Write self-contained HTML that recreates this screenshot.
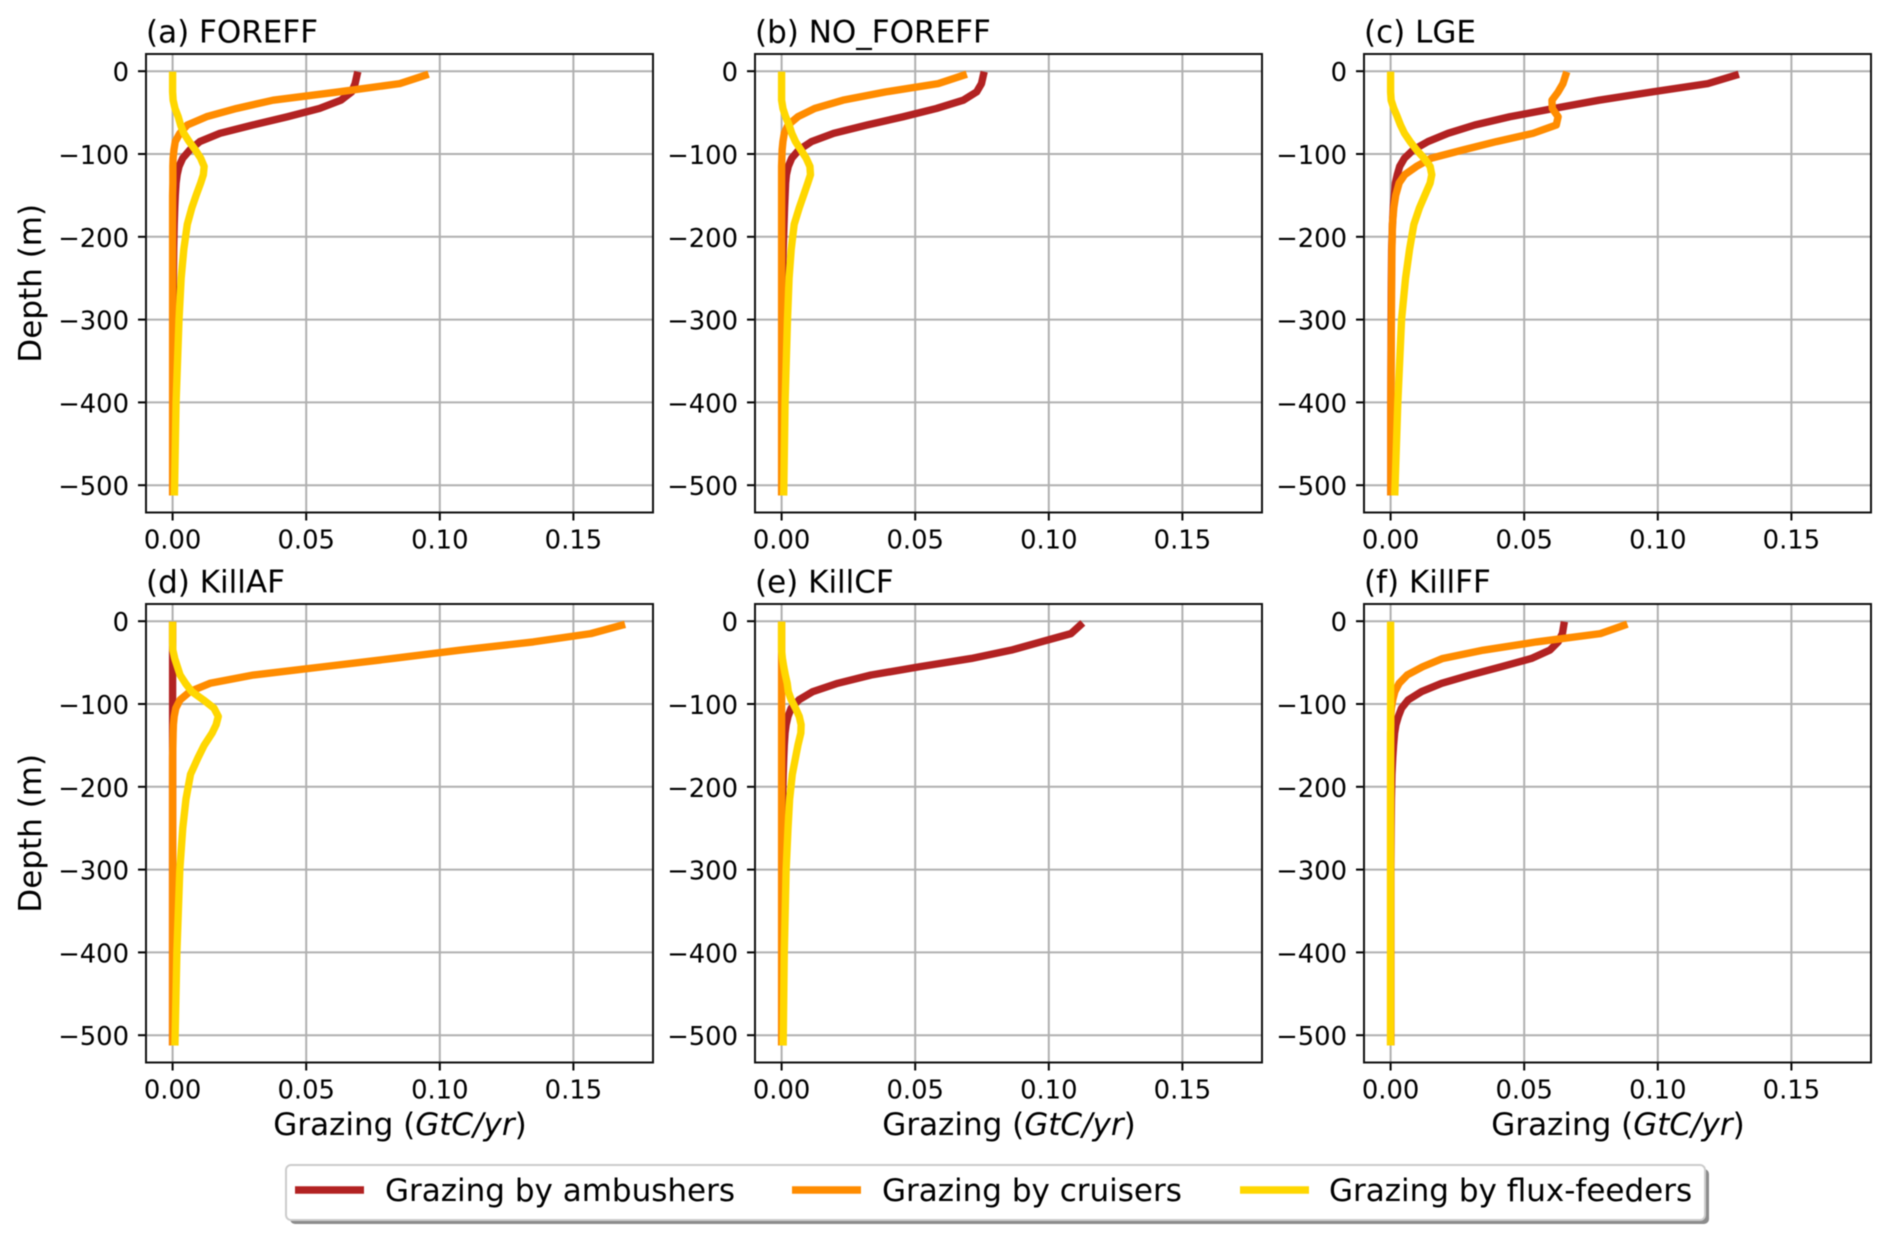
<!DOCTYPE html>
<html lang="en">
<head>
<meta charset="utf-8">
<title>Grazing depth profiles</title>
<style>
html,body{margin:0;padding:0;background:#fff;}
#chart{display:block;width:1892px;height:1244px;filter:blur(0.4px);}
text{font-family:"DejaVu Sans","Liberation Sans",sans-serif;fill:#000;}
</style>
</head>
<body>
<svg id="chart" xmlns="http://www.w3.org/2000/svg" width="1892" height="1244" viewBox="0 0 1892 1244">
  <rect x="0" y="0" width="1892" height="1244" fill="#fff"/>
  <g id="panels"></g>
  <g>
    <rect x="290" y="1169" width="1419" height="55" rx="5" fill="#8c8c8c"/>
    <rect x="286" y="1165" width="1419" height="55" rx="5" fill="#fff" stroke="#cccccc" stroke-width="2"/>
    <line x1="295" y1="1190" x2="364" y2="1190" stroke="#b22222" stroke-width="7.4"/>
    <text x="385" y="1201" font-size="31">Grazing by ambushers</text>
    <line x1="792" y1="1190" x2="861" y2="1190" stroke="#ff8c00" stroke-width="7.4"/>
    <text x="882" y="1201" font-size="31">Grazing by cruisers</text>
    <line x1="1240" y1="1190" x2="1309" y2="1190" stroke="#ffd700" stroke-width="7.4"/>
    <text x="1329" y="1201" font-size="31">Grazing by flux-feeders</text>
  </g>
</svg>
<script>
const depths = [5,15,25,35,45,55,65,75,85,95,105,115,125,135,150,165,185,215,250,300,400,508];
const xTicks = [0,0.05,0.1,0.15];
const xTickLabels = ["0.00","0.05","0.10","0.15"];
const yTicks = [0,-100,-200,-300,-400,-500];
const yTickLabels = ["0","\u2212100","\u2212200","\u2212300","\u2212400","\u2212500"];
const panelTitles = ["(a) FOREFF","(b) NO_FOREFF","(c) LGE","(d) KillAF","(e) KillCF","(f) KillFF"];
const seriesNames = ["ambushers","cruisers","flux-feeders"];
const seriesColors = ["#b22222","#ff8c00","#ffd700"];

const ambushersA = [.069,.0683,.067,.063,.055,.043,.030,.0177,.0102,.0065,.0038,.0024,.0017,.0013,.001,.0008,.0006,.0004,.0003,.0002,.0001,.0001];
const cruisersA = [.0945,.085,.062,.0376,.0239,.0127,.0055,.0027,.0010,.0005,.0002,.0001,.0001,.0001,0,0,0,0,0,0,0,0];
const fluxA = [0,0,0,.0002,.0009,.0021,.003,.0042,.0062,.0085,.0105,.0118,.0115,.0105,.0088,.0072,.0055,.0042,.0032,.0024,.0013,.0007];

const ambushersB = [.0755,.0748,.073,.068,.058,.0455,.032,.0195,.0112,.0065,.0038,.0025,.0018,.0015,.0013,.0011,.0009,.0006,.0004,.0002,.0001,.0001];
const cruisersB = [.068,.0586,.039,.023,.0124,.0061,.0024,.001,.0005,.0002,.0001,0,0,0,0,0,0,0,0,0,0,0];
const fluxB = [0,0,0,0,.0005,.0015,.0028,.0038,.0052,.0072,.0092,.0106,.0108,.0098,.0082,.0066,.0047,.0036,.0028,.0022,.0013,.0008];

const ambushersC = [.129,.1187,.098,.078,.061,.0446,.0315,.0215,.014,.0085,.0052,.0034,.0025,.0018,.0014,.001,.0007,.0004,.0003,.0002,.0001,.0001];
const cruisersC = [.0655,.0645,.0627,.0604,.0605,.0627,.062,.0533,.0396,.0272,.0153,.0097,.0053,.0032,.0019,.0012,.0007,.0005,.0004,.0003,.0001,.0001];
const fluxC = [0,0,0,.0002,.0012,.0025,.0037,.0052,.0073,.0097,.0125,.0148,.0154,.0148,.0128,.0108,.0087,.0071,.0056,.0041,.0027,.0016];

const ambushersD = [0,0,0,0,0,0,0,0,0,0,0,0,0,0,0,0,0,0,0,0,0,0];
const cruisersD = [.168,.1565,.135,.1075,.0825,.0564,.0302,.014,.0065,.0028,.0012,.0006,.0003,.0002,.0001,0,0,0,0,0,0,0];
const fluxD = [0,0,0,.0001,.0008,.0018,.0028,.0048,.0072,.0115,.0155,.0171,.0163,.0148,.0118,.0095,.0067,.005,.0038,.0027,.0016,.0009];

const ambushersE = [.1117,.1083,.097,.0859,.071,.0516,.0335,.021,.0117,.0065,.0036,.0024,.0017,.0013,.001,.0008,.0006,.0004,.0002,.0001,.0001,.0001];
const cruisersE = [0,0,0,0,0,0,0,0,0,0,0,0,0,0,0,0,0,0,0,0,0,0];
const fluxE = [0,0,0,0,.0003,.0008,.0014,.0021,.0025,.0036,.0052,.0066,.0073,.0072,.0061,.0052,.004,.003,.0024,.0017,.001,.0006];

const ambushersF = [.0648,.0643,.0627,.0596,.0527,.0415,.0297,.0191,.0116,.0066,.0041,.0029,.002,.0015,.0011,.0008,.0005,.0003,.0002,.0001,.0001,.0001];
const cruisersF = [.0873,.0785,.0546,.0347,.0195,.012,.0062,.0032,.0016,.0008,.0003,.0001,.0001,0,0,0,0,0,0,0,0,0];
const fluxF = [0,0,0,0,0,0,0,0,0,0,0,0,0,0,0,0,0,0,0,0,0,0];

const panelSeries = [
  [ambushersA,cruisersA,fluxA],
  [ambushersB,cruisersB,fluxB],
  [ambushersC,cruisersC,fluxC],
  [ambushersD,cruisersD,fluxD],
  [ambushersE,cruisersE,fluxE],
  [ambushersF,cruisersF,fluxF]
];

const NS = "http://www.w3.org/2000/svg";
const root = document.getElementById("panels");
const panelW = 507, panelH = 458.5;
const columnLeft = c => 146 + c * 609;
const rowTop = r => r === 0 ? 54 : 604;
const xScale = (c, v) => columnLeft(c) + 26.6 + v * 2672;
const yScale = (r, d) => rowTop(r) + 17.2 + (-d) * 0.828;

function make(parent, tag, attrs, text) {
  const el = document.createElementNS(NS, tag);
  for (const k in attrs) el.setAttribute(k, attrs[k]);
  if (text !== undefined) el.textContent = text;
  parent.appendChild(el);
  return el;
}

panelTitles.forEach((title, i) => {
  const c = i % 3, r = Math.floor(i / 3);
  const left = columnLeft(c), top = rowTop(r), right = left + panelW, bottom = top + panelH;
  const g = make(root, "g", {});
  
  

  const t = make(g, "text", {x: left, y: top - 11.7, "font-size": 31}, title);
  
  

  xTicks.forEach((v, k) => {
    const x = xScale(c, v);
    const gl = make(g, "line", {x1: x, y1: top, x2: x, y2: bottom, stroke: "#b0b0b0", "stroke-width": 2});
    
    
    const tk = make(g, "line", {x1: x, y1: bottom, x2: x, y2: bottom + 8, stroke: "#000", "stroke-width": 2});
    
    
    const lb = make(g, "text", {x: x, y: bottom + 36, "font-size": 25.8, "text-anchor": "middle"}, xTickLabels[k]);
    
    
  });

  yTicks.forEach((d, k) => {
    const y = yScale(r, d);
    const gl = make(g, "line", {x1: left, y1: y, x2: right, y2: y, stroke: "#b0b0b0", "stroke-width": 2});
    
    
    const tk = make(g, "line", {x1: left - 8, y1: y, x2: left, y2: y, stroke: "#000", "stroke-width": 2});
    
    
    const lb = make(g, "text", {x: left - 17, y: y + 10, "font-size": 25.8, "text-anchor": "end"}, yTickLabels[k]);
    
    
  });

  panelSeries[i].forEach((values, s) => {
    const pts = values.map((v, k) => xScale(c, v).toFixed(2) + "," + yScale(r, -depths[k]).toFixed(2)).join(" ");
    const line = make(g, "polyline", {points: pts, fill: "none", stroke: seriesColors[s], "stroke-width": 7.4, "stroke-linecap": "square", "stroke-linejoin": "round"});
    
    
  });

  const frame = make(g, "rect", {x: left, y: top, width: panelW, height: panelH, fill: "none", stroke: "#111", "stroke-width": 2});
  
  

  if (c === 0) {
    const yl = make(g, "text", {transform: "translate(41," + (top + panelH / 2) + ") rotate(-90)", "font-size": 31, "text-anchor": "middle"}, "Depth (m)");
    
    
  }
  if (r === 1) {
    const xl = make(g, "text", {x: left + panelW / 2 + 0.5, y: 1135, "font-size": 31, "text-anchor": "middle"});
    
    
    make(xl, "tspan", {}, "Grazing (");
    make(xl, "tspan", {"font-style": "italic"}, "GtC/yr");
    make(xl, "tspan", {}, ")");
  }
});
</script>
</body>
</html>
